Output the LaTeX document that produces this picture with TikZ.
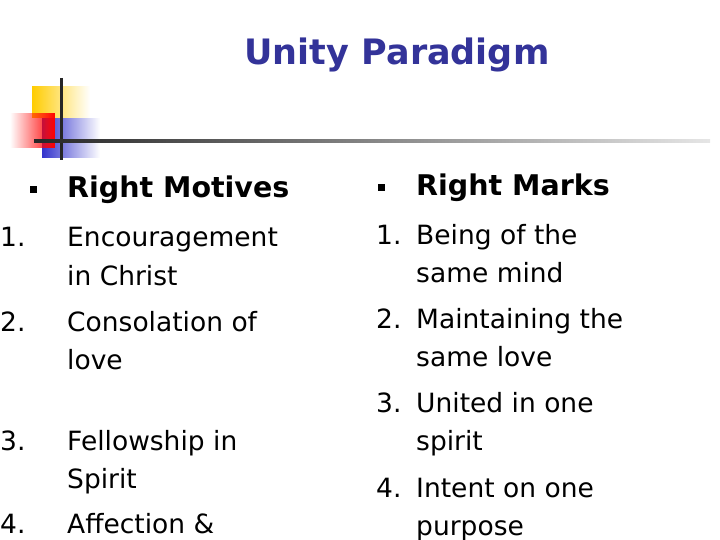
\documentclass[tikz,border=0pt]{standalone}
\usepackage{fontspec}
\setmainfont{DejaVu Sans}
\usetikzlibrary{fadings}
\definecolor{ttl}{RGB}{51,51,153}
\definecolor{gold}{RGB}{255,204,0}
\definecolor{lblue}{RGB}{51,51,204}
\begin{document}
\begin{tikzpicture}[x=1pt,y=-1pt,
  body/.style={anchor=base west,inner sep=0pt,font=\fontsize{26.5}{30}\selectfont},
  head/.style={anchor=base west,inner sep=0pt,font=\fontsize{28.5}{32}\selectfont\bfseries},
  num/.style={anchor=base west,inner sep=0pt,font=\fontsize{26.5}{30}\selectfont},
  bul/.style={fill=black,minimum size=7pt,inner sep=0pt}]
\useasboundingbox (0,0) rectangle (720,540);
\node[anchor=base,inner sep=0pt,font=\fontsize{35}{40}\selectfont\bfseries,text=ttl] (title) at (397,65) {Unity Paradigm};
% logo
\fill[gold,path fading=east] (32,86) rectangle (90,118);
\fill[lblue,path fading=east] (42,118) rectangle (100,158);
\fill[red,path fading=west] (10,113) rectangle (55,148);
\draw[line width=3pt,black!85] (61,78) -- (61,160);
\shade[left color=black!85,right color=black!10] (34,139.5) rectangle (710,142.5);
% left column
\node[bul] (b1) at (33,190) {};
\node[head] (h1) at (67,198) {Right Motives};
\node[num] (n1) at (0,247) {1.};
\node[body] (l1) at (67,247) {Encouragement};
\node[body] (l1b) at (67,285) {in Christ};
\node[num] (n2) at (0,331) {2.};
\node[body] (l2) at (67,331) {Consolation of};
\node[body] (l2b) at (67,369) {love};
\node[num] (n3) at (0,450) {3.};
\node[body] (l3) at (67,450) {Fellowship in};
\node[body] (l3b) at (67,488) {Spirit};
\node[num] (n4) at (0,533) {4.};
\node[body] (l4) at (67,533) {Affection \&};
% right column
\node[bul] (b2) at (381,188) {};
\node[head] (h2) at (416,196) {Right Marks};
\node[num] (m1) at (376,244) {1.};
\node[body] (r1) at (416,244) {Being of the};
\node[body] (r1b) at (416,282) {same mind};
\node[num] (m2) at (376,328) {2.};
\node[body] (r2) at (416,328) {Maintaining the};
\node[body] (r2b) at (416,366) {same love};
\node[num] (m3) at (376,412) {3.};
\node[body] (r3) at (416,412) {United in one};
\node[body] (r3b) at (416,450) {spirit};
\node[num] (m4) at (376,497) {4.};
\node[body] (r4) at (416,497) {Intent on one};
\node[body] (r4b) at (416,535) {purpose};
\end{tikzpicture}
\end{document}
